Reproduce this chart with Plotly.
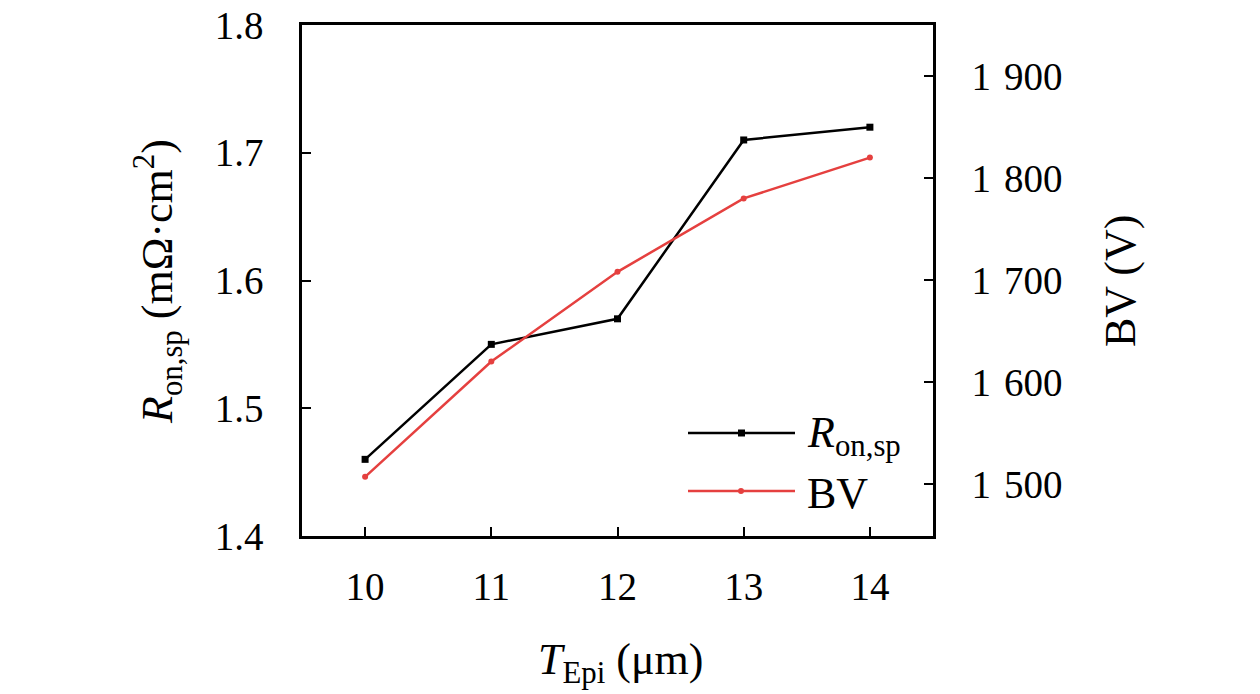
import plotly.graph_objects as go

t_epi = [10, 11, 12, 13, 14]
r_on = [1.46, 1.55, 1.57, 1.71, 1.72]
bv = [1507, 1620, 1708, 1780, 1820]

y1_ticks = [1.4, 1.5, 1.6, 1.7, 1.8]
y1_labels = ["1.4", "1.5", "1.6", "1.7", "1.8"]
y2_ticks = [1500, 1600, 1700, 1800, 1900]
y2_labels = ["1\u2004500", "1\u2004600", "1\u2004700", "1\u2004800", "1\u2004900"]

FONT = "Liberation Serif"
BLACK = "#000000"
RED = "#e5403f"
TICKSIZE = 39
TITLESIZE = 44

fig = go.Figure()
fig.add_trace(go.Scatter(x=t_epi, y=r_on, mode="lines+markers", name="R_on,sp",
                         line=dict(color=BLACK, width=2.5),
                         marker=dict(symbol="square", size=7, color=BLACK),
                         yaxis="y", showlegend=False))
fig.add_trace(go.Scatter(x=t_epi, y=bv, mode="lines+markers", name="BV",
                         line=dict(color=RED, width=2.5),
                         marker=dict(symbol="circle", size=6, color=RED),
                         yaxis="y2", showlegend=False))

W, H = 1260, 694
L, R, T, B = 302, 933, 25, 536

def px(x):
    return (x - L) / (R - L)

def py(y):
    return (B - y) / (B - T)

shapes = []
annotations = []
# custom legend
for yy, col, sym, label in [(433, BLACK, "sq", "<i>R</i><sub>on,sp</sub>"), (491, RED, "ci", "BV")]:
    shapes.append(dict(type="line", xref="paper", yref="paper",
                       x0=px(688), x1=px(795), y0=py(yy), y1=py(yy),
                       line=dict(color=col, width=2.5)))
    if sym == "sq":
        shapes.append(dict(type="rect", xref="paper", yref="paper",
                           x0=px(738), x1=px(745), y0=py(yy - 3.5), y1=py(yy + 3.5),
                           fillcolor=col, line=dict(width=0)))
    else:
        shapes.append(dict(type="circle", xref="paper", yref="paper",
                           x0=px(738), x1=px(744), y0=py(yy - 3), y1=py(yy + 3),
                           fillcolor=col, line=dict(width=0)))
    annotations.append(dict(xref="paper", yref="paper", x=px(805), y=py(yy + 2),
                            xanchor="left", yanchor="middle", showarrow=False,
                            text=label, font=dict(family=FONT, size=TITLESIZE, color=BLACK)))

# axis titles
annotations.append(dict(xref="paper", yref="paper", x=px(158), y=py(282),
                        xanchor="center", yanchor="middle", showarrow=False, textangle=-90,
                        text="<i>R</i><sub>on,sp</sub> (mΩ·cm<sup>2</sup>)",
                        font=dict(family=FONT, size=TITLESIZE, color=BLACK)))
annotations.append(dict(xref="paper", yref="paper", x=px(1120), y=py(281),
                        xanchor="center", yanchor="middle", showarrow=False, textangle=-90,
                        text="BV (V)", font=dict(family=FONT, size=TITLESIZE, color=BLACK)))
annotations.append(dict(xref="paper", yref="paper", x=px(620), y=py(662),
                        xanchor="center", yanchor="middle", showarrow=False,
                        text="<i>T</i><sub>Epi</sub> (μm)", font=dict(family=FONT, size=TITLESIZE, color=BLACK)))

axis_common = dict(ticks="inside", ticklen=9, tickwidth=2, tickcolor=BLACK, showline=True,
                   linecolor=BLACK, linewidth=2.5, showgrid=False, zeroline=False,
                   automargin=False,
                   tickfont=dict(family=FONT, size=TICKSIZE, color=BLACK))

fig.update_layout(
    width=W, height=H,
    margin=dict(l=L, r=W - R, t=T, b=H - B, pad=0, autoexpand=False),
    plot_bgcolor="white", paper_bgcolor="white",
    font=dict(family=FONT, size=TICKSIZE, color=BLACK),
    xaxis=dict(range=[9.5, 14.5], tickvals=t_epi, mirror=True, ticklabelstandoff=14,
               **axis_common),
    yaxis=dict(range=[1.4, 1.8], tickvals=y1_ticks, ticktext=y1_labels, ticklabelstandoff=28,
               **axis_common),
    yaxis2=dict(range=[1449, 1950], tickvals=y2_ticks, ticktext=y2_labels,
                overlaying="y", side="right", ticklabelstandoff=28, **axis_common),
    shapes=shapes, annotations=annotations, showlegend=False,
)

fig.write_html("out.html", config={"displayModeBar": False},
               post_script="document.body.style.margin='0';document.body.style.padding='0';")
